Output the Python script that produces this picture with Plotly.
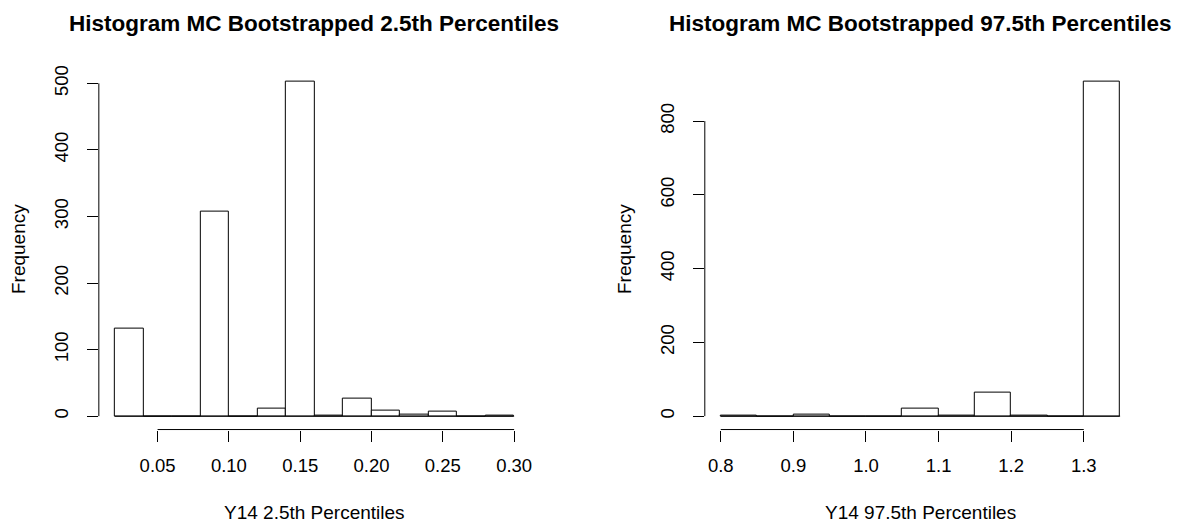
import plotly.graph_objects as go
import numpy as np

# Left histogram: bootstrapped 2.5th percentiles
left_edges = [0.02, 0.04, 0.06, 0.08, 0.10, 0.12, 0.14, 0.16, 0.18, 0.20, 0.22, 0.24, 0.26, 0.28, 0.30]
left_counts = [131, 0, 0, 307, 0, 12, 502, 1, 27, 9, 3, 7, 0, 1]
left_xticks = [0.05, 0.10, 0.15, 0.20, 0.25, 0.30]
left_xticklabels = ["0.05", "0.10", "0.15", "0.20", "0.25", "0.30"]
left_yticks = [0, 100, 200, 300, 400, 500]

# Right histogram: bootstrapped 97.5th percentiles
right_edges = [0.80, 0.85, 0.90, 0.95, 1.00, 1.05, 1.10, 1.15, 1.20, 1.25, 1.30, 1.35]
right_counts = [2, 0, 3, 0, 0, 20, 2, 65, 2, 0, 906]
right_xticks = [0.8, 0.9, 1.0, 1.1, 1.2, 1.3]
right_xticklabels = ["0.8", "0.9", "1.0", "1.1", "1.2", "1.3"]
right_yticks = [0, 200, 400, 600, 800]

titles = ["Histogram MC Bootstrapped 2.5th Percentiles", "Histogram MC Bootstrapped 97.5th Percentiles"]
xtitles = ["Y14 2.5th Percentiles", "Y14 97.5th Percentiles"]
ytitle = "Frequency"

FONT = "Liberation Sans, Arial, Helvetica, sans-serif"
W, H = 1182, 523

fig = go.Figure()

panels = [
    (left_edges, left_counts, left_xticks, left_xticklabels, left_yticks, "x", "y", (99, 531)),
    (right_edges, right_counts, right_xticks, right_xticklabels, right_yticks, "x2", "y2", (706, 1138)),
]
ydom = ((523 - 429) / H, (523 - 66) / H)

layout = dict(
    width=W, height=H, margin=dict(l=0, r=0, t=0, b=0),
    paper_bgcolor="white", plot_bgcolor="white", showlegend=False,
    font=dict(family=FONT, size=19, color="black"),
    bargap=0,
)
shapes = []
annotations = []

for i, (edges, counts, xt, xtl, yt, xa, ya, (px0, px1)) in enumerate(panels):
    e = np.array(edges, dtype=float)
    c = np.array(counts, dtype=float)
    centers = (e[:-1] + e[1:]) / 2
    widths = e[1:] - e[:-1]
    # baseline for empty bins
    fig.add_trace(go.Scatter(x=[e[0], e[-1]], y=[0, 0], mode="lines",
                             line=dict(color="black", width=1), xaxis=xa, yaxis=ya,
                             hoverinfo="skip"))
    fig.add_trace(go.Bar(x=centers, y=c, width=widths, xaxis=xa, yaxis=ya,
                         marker=dict(color="white", line=dict(color="black", width=1))))
    xr = e[-1] - e[0]
    yr = c.max()
    xrange = [e[0] - 0.04 * xr, e[-1] + 0.04 * xr]
    yrange = [-0.04 * yr, yr * 1.04]
    xk = "xaxis" if i == 0 else "xaxis2"
    yk = "yaxis" if i == 0 else "yaxis2"
    layout[xk] = dict(domain=[px0 / W, px1 / W], range=xrange, anchor=ya,
                      tickvals=xt, ticktext=xtl, ticks="outside", ticklen=11,
                      tickcolor="black", showgrid=False, zeroline=False, showline=False,
                      ticklabelstandoff=8, tickfont=dict(size=18.5))
    layout[yk] = dict(domain=list(ydom), range=yrange, anchor=xa,
                      tickvals=yt, ticks="outside", ticklen=11, tickangle=-90,
                      tickcolor="black", showgrid=False, zeroline=False, showline=False,
                      ticklabelstandoff=11, tickfont=dict(size=18.5))
    # R-style axis lines spanning the tick range only
    shapes.append(dict(type="line", xref=xa, yref=f"{ya} domain", x0=xt[0], x1=xt[-1], y0=0, y1=0,
                       line=dict(color="black", width=1)))
    shapes.append(dict(type="line", xref=f"{xa} domain", yref=ya, x0=0, x1=0, y0=yt[0], y1=yt[-1],
                       line=dict(color="black", width=1)))
    cx = (px0 + px1) / 2 / W
    annotations.append(dict(text=f"<b>{titles[i]}</b>", x=cx, y=1 - 21 / H, xref="paper", yref="paper",
                            showarrow=False, xanchor="center", yanchor="middle", font=dict(size=22.5)))
    annotations.append(dict(text=xtitles[i], x=cx, y=1 - 512 / H, xref="paper", yref="paper",
                            showarrow=False, xanchor="center", yanchor="middle", font=dict(size=19)))
    annotations.append(dict(text=ytitle, x=(px0 - 81) / W, y=(ydom[0] + ydom[1]) / 2, xref="paper", yref="paper",
                            showarrow=False, xanchor="center", yanchor="middle", textangle=-90,
                            font=dict(size=19)))

layout["shapes"] = shapes
layout["annotations"] = annotations
fig.update_layout(**layout)
fig.write_html("out.html")
